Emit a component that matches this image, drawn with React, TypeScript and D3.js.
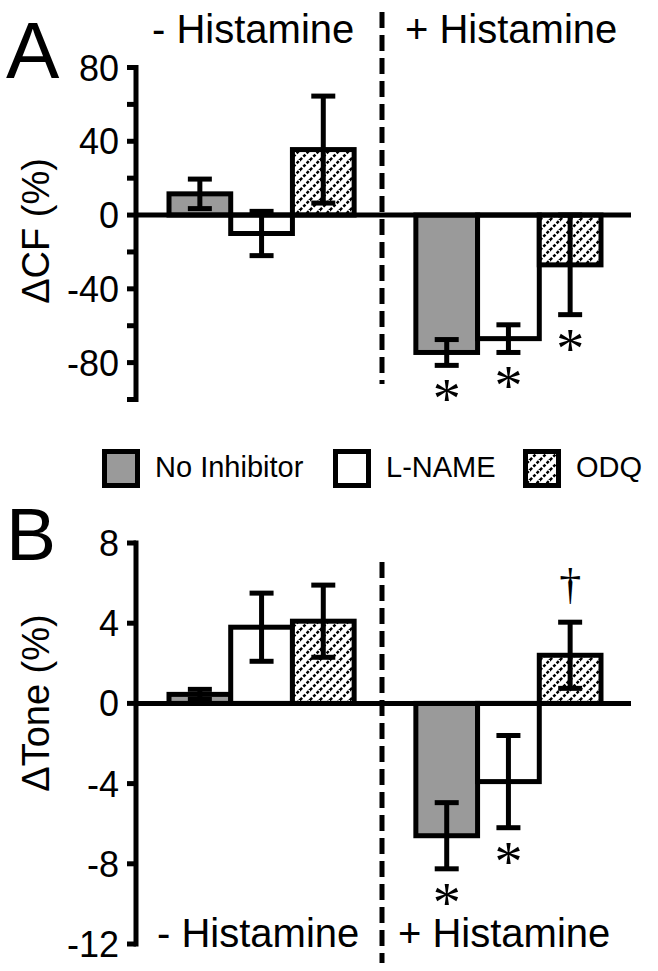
import React from "react";
import * as d3 from "d3";

const W = 658;
const H = 971;

const groupLabels = ["- Histamine", "+ Histamine"];
const treatments = ["No Inhibitor", "L-NAME", "ODQ"];
const slots = ["-NI", "-LN", "-ODQ", "gap", "+NI", "+LN", "+ODQ"];
const barSlots = ["-NI", "-LN", "-ODQ", "+NI", "+LN", "+ODQ"];
const barTreatment = [0, 1, 2, 0, 1, 2];

const cfMeans = [11.5, -10, 35.5, -74.5, -67, -27];
const cfErrs = [8, 12, 29, 7, 7.5, 27];
const cfStars = [false, false, false, true, true, true];
const cfTicks = [80, 40, 0, -40, -80];
const cfMinorTicks = [60, 20, -20, -60, -100];

const toneMeans = [0.45, 3.8, 4.1, -6.6, -3.9, 2.4];
const toneErrs = [0.25, 1.7, 1.8, 1.65, 2.3, 1.65];
const toneStars = [false, false, false, true, true, false];
const toneDaggers = [false, false, false, false, false, true];
const toneTicks = [8, 4, 0, -4, -8, -12];

const SANS = "'Liberation Sans', Arial, Helvetica, sans-serif";
const SERIF = "'Liberation Serif', 'Times New Roman', serif";
const SW = 5;
const fills = ["#9a9a9a", "#ffffff", "url(#hatch)"];

const x = d3.scaleBand<string>().domain(slots).range([169, 601]).padding(0);
const axisX = 136;
const zeroEnd = 631;

type PanelProps = {
  means: number[];
  errs: number[];
  stars: boolean[];
  daggers: boolean[];
  ticks: number[];
  minor: number[];
  domain: [number, number];
  range: [number, number];
  label: string;
  labelY: number;
  letter: string;
  letterY: number;
  letterSize: number;
  dashY: [number, number];
};

function Panel(p: PanelProps) {
  const y = d3.scaleLinear().domain(p.domain).range(p.range);
  const bw = x.bandwidth();
  const dashX = (x("gap") as number) + bw / 2 - 3;
  return (
    <g>
      {barSlots.map((s, i) => {
        const x0 = x(s) as number;
        const v = p.means[i];
        const y0 = Math.min(y(0), y(v));
        const h = Math.abs(y(v) - y(0));
        return (
          <rect key={"b" + s} x={x0} y={y0} width={bw} height={h}
            fill={fills[barTreatment[i]]} stroke="#000" strokeWidth={SW} />
        );
      })}
      {barSlots.map((s, i) => {
        const cx = (x(s) as number) + bw / 2;
        const hi = y(p.means[i] + p.errs[i]);
        const lo = y(p.means[i] - p.errs[i]);
        return (
          <g key={"e" + s} stroke="#000" strokeWidth={SW}>
            <line x1={cx} x2={cx} y1={hi} y2={lo} />
            <line x1={cx - 12} x2={cx + 12} y1={hi} y2={hi} />
            <line x1={cx - 12} x2={cx + 12} y1={lo} y2={lo} />
          </g>
        );
      })}
      {barSlots.map((s, i) =>
        p.stars[i] ? (
          <text key={"s" + s} x={(x(s) as number) + bw / 2}
            y={y(p.means[i] - p.errs[i]) + 27 + 26}
            textAnchor="middle" fontFamily={SERIF} fontSize={56}>*</text>
        ) : null
      )}
      {barSlots.map((s, i) =>
        p.daggers[i] ? (
          <text key={"d" + s} x={(x(s) as number) + bw / 2}
            y={y(p.means[i] + p.errs[i]) - 35 + 12}
            textAnchor="middle" fontFamily={SERIF} fontSize={44}>†</text>
        ) : null
      )}
      <line x1={axisX} x2={zeroEnd} y1={y(0)} y2={y(0)} stroke="#000" strokeWidth={SW} />
      <line x1={dashX} x2={dashX} y1={p.dashY[0]} y2={p.dashY[1]} stroke="#000"
        strokeWidth={SW} strokeDasharray="16 7" />
      <line x1={axisX} x2={axisX} y1={y(p.domain[0]) - SW / 2} y2={y(p.domain[1]) + SW / 2}
        stroke="#000" strokeWidth={SW} />
      {[...p.ticks, ...p.minor].map((t) => (
        <line key={"t" + t} x1={axisX - 9} x2={axisX} y1={y(t)} y2={y(t)}
          stroke="#000" strokeWidth={SW} />
      ))}
      {p.ticks.map((t) => (
        <text key={"l" + t} x={119} y={y(t) + 13} textAnchor="end"
          fontFamily={SANS} fontSize={36}>{t}</text>
      ))}
      <text transform={`translate(49,${p.labelY}) rotate(-90)`} textAnchor="middle"
        fontFamily={SANS} fontSize={38}>{p.label}</text>
      <text x={6} y={p.letterY} fontFamily={SANS} fontSize={p.letterSize}>{p.letter}</text>
    </g>
  );
}

export default function App() {
  const legendX = [104.5, 335.5, 525.5];
  const legendTextX = [155, 386, 576];
  return (
    <svg width={W} height={H} viewBox={`0 0 ${W} ${H}`}
      style={{ position: "absolute", left: 0, top: 0, background: "#fff" }}>
      <defs>
        <pattern id="hatch" patternUnits="userSpaceOnUse" width={10} height={10}>
          <rect width={10} height={10} fill="#fff" />
          <path d="M-1,1 L1,-1 M0,10 L10,0 M9,11 L11,9" stroke="#000" strokeWidth={2.5}
            strokeDasharray="3 1.7" />
        </pattern>
      </defs>
      <rect width={W} height={H} fill="#fff" />
      <text x={152} y={43} fontFamily={SANS} fontSize={40}>{groupLabels[0]}</text>
      <text x={405} y={43} fontFamily={SANS} fontSize={40}>{groupLabels[1]}</text>
      <Panel means={cfMeans} errs={cfErrs} stars={cfStars} daggers={[false, false, false, false, false, false]}
        ticks={cfTicks} minor={cfMinorTicks} domain={[80, -100]} range={[67.5, 399.5]}
        label="ΔCF (%)" labelY={231} letter="A" letterY={78} letterSize={80} dashY={[12, 384]} />
      {treatments.map((t, i) => (
        <g key={"lg" + t}>
          <rect x={legendX[i]} y={451.5} width={33} height={34} fill={fills[i]}
            stroke="#000" strokeWidth={SW} />
          <text x={legendTextX[i]} y={477} fontFamily={SANS} fontSize={29}>{t}</text>
        </g>
      ))}
      <Panel means={toneMeans} errs={toneErrs} stars={toneStars} daggers={toneDaggers}
        ticks={toneTicks} minor={[]} domain={[8, -12]} range={[543, 944]}
        label="ΔTone (%)" labelY={703} letter="B" letterY={560} letterSize={75} dashY={[562, 963]} />
      <text x={157} y={947} fontFamily={SANS} fontSize={40}>{groupLabels[0]}</text>
      <text x={398} y={947} fontFamily={SANS} fontSize={40}>{groupLabels[1]}</text>
    </svg>
  );
}
